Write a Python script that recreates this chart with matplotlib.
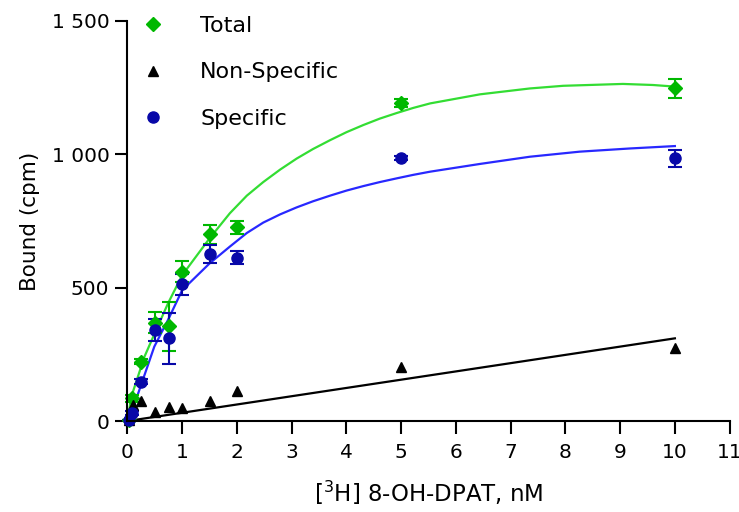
import numpy as np
import matplotlib
matplotlib.use("Agg")
import matplotlib.pyplot as plt
from matplotlib.ticker import FuncFormatter

plt.rcParams["font.family"] = ["DejaVu Sans"]

# measured points (nM, cpm)
x_total = [0.02, 0.08, 0.25, 0.5, 0.75, 1.0, 1.5, 2.0, 5.0, 10.0]
y_total = [5, 85, 222, 369, 356, 560, 700, 726, 1191, 1247]
e_total = [0, 12, 10, 40, 92, 40, 35, 25, 15, 34]

x_spec = [0.02, 0.08, 0.25, 0.5, 0.75, 1.0, 1.5, 2.0, 5.0, 10.0]
y_spec = [5, 30, 147, 341, 310, 512, 626, 612, 986, 985]
e_spec = [0, 8, 10, 40, 95, 40, 35, 25, 8, 33]

x_ns = [0.02, 0.1, 0.25, 0.5, 0.75, 1.0, 1.5, 2.0, 5.0, 10.0]
y_ns = [3, 60, 76, 35, 54, 48, 76, 112, 204, 272]

# fitted curves
xc_total = [0, 0.07, 0.31, 0.5, 0.74, 1.0, 1.5, 1.87, 2.18, 2.48, 2.79, 3.09, 3.39, 3.70,
            4.00, 4.31, 4.61, 4.92, 5.22, 5.53, 6.44, 7.35, 7.96, 9.05, 9.6, 10.0]
yc_total = [0, 91, 241, 330, 441, 547, 685, 779, 845, 896, 943, 984, 1020, 1053,
            1083, 1110, 1134, 1155, 1174, 1191, 1225, 1247, 1257, 1264, 1260, 1254]

xc_spec = [0, 0.07, 0.28, 0.49, 0.74, 1.0, 1.5, 1.87, 2.18, 2.48, 2.79, 3.09, 3.39, 3.70,
           4.00, 4.31, 4.61, 4.92, 5.22, 5.53, 6.44, 7.35, 8.26, 9.18, 10.0]
yc_spec = [0, 29, 154, 279, 379, 491, 591, 654, 705, 744, 775, 801, 824, 845,
           864, 881, 896, 910, 923, 935, 964, 991, 1010, 1022, 1031]

xc_ns = [0, 10]
yc_ns = [0, 310]

green_pt = "#00B800"
green_ln = "#33DD33"
blue_pt = "#0808A8"
blue_ln = "#2828FF"

fig = plt.figure(figsize=(7.39, 5.12), dpi=100)
ax = fig.add_axes([0.1725, 0.1777, 0.8148, 0.7813])

ax.plot(xc_total, yc_total, color=green_ln, lw=1.6, clip_on=False)
ax.plot(xc_spec, yc_spec, color=blue_ln, lw=1.6, clip_on=False)
ax.plot(xc_ns, yc_ns, color="black", lw=1.6, clip_on=False)

# error bars
ax.errorbar(x_total, y_total, yerr=e_total, fmt="none", ecolor=green_pt,
            elinewidth=1.5, capsize=5, capthick=1.5, clip_on=False)
ax.errorbar(x_spec, y_spec, yerr=e_spec, fmt="none", ecolor=blue_pt,
            elinewidth=1.5, capsize=5, capthick=1.5, clip_on=False)

# points
ax.plot(x_total, y_total, "D", color=green_pt, ms=7.5, ls="none", label="Total", clip_on=False)
ax.plot(x_ns, y_ns, "^", color="black", ms=6.5, ls="none", label="Non-Specific", clip_on=False)
ax.plot(x_spec, y_spec, "o", color=blue_pt, ms=8, ls="none", label="Specific", clip_on=False)

ax.set_xlim(0, 11)
ax.set_ylim(0, 1500)
ax.set_xticks(range(0, 12))
ax.set_yticks([0, 500, 1000, 1500])
ax.yaxis.set_major_formatter(FuncFormatter(lambda v, p: f"{int(v):,}".replace(",", " ")))

for s in ["top", "right"]:
    ax.spines[s].set_visible(False)
for s in ["left", "bottom"]:
    ax.spines[s].set_linewidth(1.5)
ax.tick_params(direction="out", length=9, width=1.5, labelsize=14.5)
ax.tick_params(axis="x", pad=7)
ax.tick_params(axis="y", pad=4)

ax.set_xlabel("[$^3$H] 8-OH-DPAT, nM", fontsize=16.5, labelpad=12)
ax.set_ylabel("Bound (cpm)", fontsize=15.5, labelpad=8)

ax.legend(loc="upper left", bbox_to_anchor=(0.009, 1.035), frameon=False,
          fontsize=16, handlelength=1.0, handletextpad=1.62, labelspacing=1.19,
          borderaxespad=0.0, borderpad=0.4)

fig.savefig("out.png", dpi=100)
